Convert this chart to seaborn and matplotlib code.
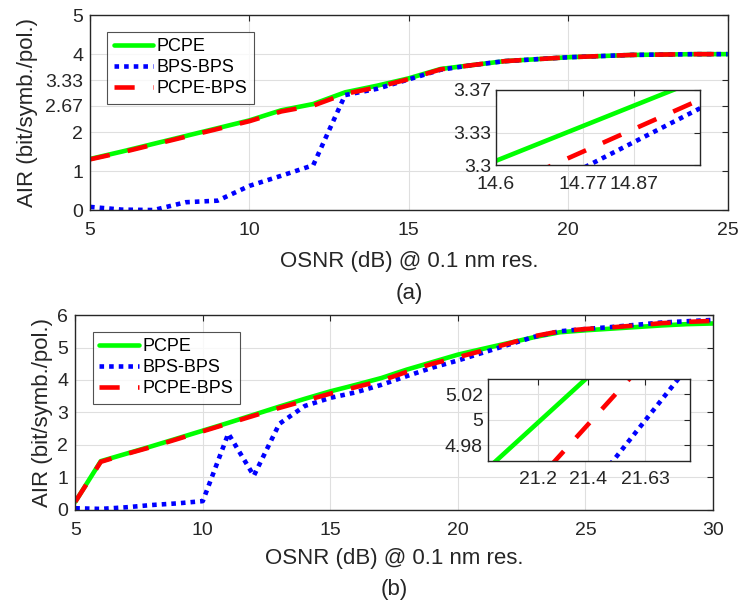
import matplotlib
matplotlib.use("Agg")
import matplotlib.pyplot as plt
import pandas as pd
import seaborn as sns

# panel (a)
osnr_a = list(range(5, 26))
pcpe_a = [1.31, 1.5, 1.7, 1.9, 2.1, 2.3, 2.56, 2.72, 3.02, 3.19, 3.38, 3.62, 3.72, 3.82,
          3.87, 3.92, 3.95, 3.98, 3.99, 4.0, 4.0]
bps_a = [0.08, 0.01, 0.0, 0.2, 0.24, 0.62, 0.88, 1.15, 2.95, 3.11, 3.353, 3.6, 3.72, 3.82,
         3.87, 3.92, 3.95, 3.98, 3.99, 4.0, 4.0]
pcpebps_a = [1.3, 1.48, 1.68, 1.88, 2.08, 2.28, 2.53, 2.68, 2.98, 3.15, 3.361, 3.61, 3.72, 3.82,
             3.87, 3.92, 3.95, 3.98, 3.99, 4.0, 4.0]

# panel (b)
osnr_b = list(range(5, 31))
pcpe_b = [0.25, 1.5, 1.73, 1.96, 2.2, 2.44, 2.68, 2.93, 3.18, 3.42, 3.65, 3.85, 4.06, 4.32,
          4.55, 4.78, 4.962, 5.14, 5.32, 5.47, 5.53, 5.58, 5.63, 5.68, 5.72, 5.74]
bps_b = [0.05, 0.03, 0.08, 0.15, 0.2, 0.27, 2.35, 1.05, 2.65, 3.2, 3.45, 3.62, 3.85, 4.12,
         4.38, 4.6, 4.845, 5.09, 5.33, 5.5, 5.57, 5.63, 5.7, 5.77, 5.81, 5.85]
pcpebps_b = [0.25, 1.48, 1.72, 1.94, 2.18, 2.42, 2.66, 2.9, 3.14, 3.36, 3.58, 3.78, 3.98, 4.25,
             4.5, 4.7, 4.91, 5.125, 5.35, 5.5, 5.57, 5.62, 5.68, 5.75, 5.79, 5.82]

labels = ["PCPE", "BPS-BPS", "PCPE-BPS"]
colors = ["#00ff00", "#0000ff", "#ff0000"]
styles = ["-", (0, (1, 1.1)), (0, (4.4, 4.0))]

yticks_a = [0, 1, 2, 2.67, 3.33, 4, 5]
yticks_b = [0, 1, 2, 3, 4, 5, 6]
inset_xticks_a = [14.6, 14.77, 14.87]
inset_yticks_a = [3.3, 3.33, 3.37]
inset_xticks_b = [21.2, 21.4, 21.63]
inset_yticks_b = [4.98, 5, 5.02]

sns.set_style("whitegrid")
plt.rcParams['font.family'] = ['Liberation Sans', 'DejaVu Sans']
plt.rcParams['axes.unicode_minus'] = False

TXT = "#262626"
fig = plt.figure(figsize=(7.38, 6.07), dpi=100)


def draw(ax, x, series, legend=False):
    for ys, lab, c, ls in zip(series, labels, colors, styles):
        df = pd.DataFrame({"x": x, "y": ys})
        sns.lineplot(data=df, x="x", y="y", ax=ax, color=c, linestyle=ls, lw=3.3,
                     label=lab if legend else None, legend=False)


def style_ax(ax, xpad, ypad):
    for s in ax.spines.values():
        s.set_color("#262626")
        s.set_linewidth(1.0)
    ax.grid(True, color="#dfdfdf", linewidth=0.8)
    ax.tick_params(direction="in", top=True, right=True, length=4, labelsize=14,
                   colors="#262626", labelcolor=TXT, width=0.8)
    ax.tick_params(axis="x", pad=xpad)
    ax.tick_params(axis="y", pad=ypad)
    ax.set_xlabel("")
    ax.set_ylabel("")


def panel(rect, x, series, xlim, ylim, xticks, yticks, leg_anchor, ylab_x, xlab_y):
    ax = fig.add_axes(rect)
    draw(ax, x, series, legend=True)
    ax.set_xlim(xlim)
    ax.set_ylim(ylim)
    ax.set_xticks(xticks)
    ax.set_yticks(yticks)
    ax.set_yticklabels([f"{v:g}" for v in yticks])
    style_ax(ax, 8.5, 5)
    ax.set_xlabel("OSNR (dB) @ 0.1 nm res.", fontsize=16, color=TXT, va="top")
    ax.xaxis.set_label_coords(0.5, xlab_y)
    ax.set_ylabel("AIR (bit/symb./pol.)", fontsize=16, color=TXT)
    ax.yaxis.set_label_coords(ylab_x, 0.5)
    leg = ax.legend(loc="upper left", bbox_to_anchor=leg_anchor, borderaxespad=0,
                    fontsize=13, frameon=True, fancybox=False, handlelength=2.2,
                    labelspacing=0.22, borderpad=0.35, handletextpad=0.2)
    leg.get_frame().set_edgecolor("#262626")
    leg.get_frame().set_linewidth(0.8)
    for t in leg.get_texts():
        t.set_color("black")
    return ax


def inset(rect, x, series, xlim, ylim, xticks, yticks):
    ax = fig.add_axes(rect)
    draw(ax, x, series)
    ax.set_xlim(xlim)
    ax.set_ylim(ylim)
    ax.set_xticks(xticks)
    ax.set_yticks(yticks)
    ax.set_xticklabels([f"{v:g}" for v in xticks])
    ax.set_yticklabels([f"{v:g}" for v in yticks])
    style_ax(ax, 7.5, 3.5)
    ax.set_facecolor("white")
    return ax


ax1 = panel([0.122, 0.654, 0.864, 0.321], osnr_a, [pcpe_a, bps_a, pcpebps_a],
            (5, 25), (0, 5), [5, 10, 15, 20, 25], yticks_a, (0.027, 0.913),
            -0.082, -0.21)
inset([0.672, 0.728, 0.277, 0.124], osnr_a, [pcpe_a, bps_a, pcpebps_a],
      (14.6, 15.0), (3.3, 3.37), inset_xticks_a, inset_yticks_a)

ax2 = panel([0.102, 0.160, 0.864, 0.321], osnr_b, [pcpe_b, bps_b, pcpebps_b],
            (5, 30), (0, 6), [5, 10, 15, 20, 25, 30], yticks_b, (0.028, 0.913),
            -0.035, -0.195)
inset([0.661, 0.241, 0.274, 0.135], osnr_b, [pcpe_b, bps_b, pcpebps_b],
      (21.0, 21.81), (4.968, 5.032), inset_xticks_b, inset_yticks_b)

fig.text(409 / 738, 1 - 293 / 607, "(a)", ha="center", va="center", fontsize=16, color=TXT)
fig.text(394 / 738, 1 - 590 / 607, "(b)", ha="center", va="center", fontsize=16, color=TXT)

fig.savefig("out.png", dpi=100)
